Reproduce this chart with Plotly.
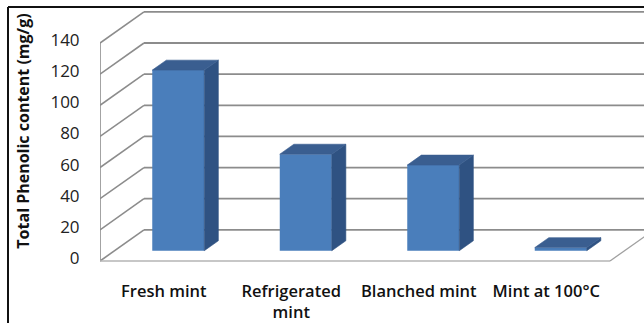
import plotly.graph_objects as go

# ---- data ----
categories = ["Fresh mint", "Refrigerated<br>mint", "Blanched mint", "Mint at 100°C"]
values = [116, 62, 55, 2]
y_ticks = [0, 20, 40, 60, 80, 100, 120, 140]
y_title = "Total Phenolic content (mg/g)"

# ---- oblique 3D geometry (in axis units) ----
DX, DY = 0.345, 20.0        # full depth offset of the walls
D_FRONT = 0.33              # depth of bar front faces
D_BAR = 0.32                # bar depth
BAR_W = 0.408
X0, X1 = -0.5, len(categories) - 0.5

FRONT = "#4a7ebb"
TOP = "#3a5e90"
SIDE = "#2f5282"
GRID = "#8c8c8c"

W, H = 644, 323
ML, MR, MT, MB = 100, 0, 0, 61
PW, PH = W - ML - MR, H - MT - MB
CAT_PX = 127.5              # pixels per category
Y_PX = 1.557                # pixels per value unit


def px(x):  # paper coord from pixel x
    return (x - ML) / PW


def py(y):  # paper coord from pixel y
    return (H - MB - y) / PH


fig = go.Figure()

# front faces as bars
xs = [i + D_FRONT * DX for i in range(len(values))]
fig.add_trace(go.Bar(
    x=xs, y=values, base=[D_FRONT * DY] * len(values), width=BAR_W,
    marker=dict(color=FRONT, line=dict(width=0)), hoverinfo="skip",
))

# side and top faces
sx, sy, tx, ty = [], [], [], []
ddx, ddy = D_BAR * DX, D_BAR * DY
for xc, v in zip(xs, values):
    xl, xr = xc - BAR_W / 2, xc + BAR_W / 2
    y0 = D_FRONT * DY
    y1 = y0 + v
    sx += [xr, xr + ddx, xr + ddx, xr, xr, None]
    sy += [y0, y0 + ddy, y1 + ddy, y1, y0, None]
    tx += [xl, xr, xr + ddx, xl + ddx, xl, None]
    ty += [y1, y1, y1 + ddy, y1 + ddy, y1, None]
fig.add_trace(go.Scatter(x=sx, y=sy, fill="toself", fillcolor=SIDE, mode="lines",
                         line=dict(width=0.6, color=SIDE), hoverinfo="skip"))
fig.add_trace(go.Scatter(x=tx, y=ty, fill="toself", fillcolor=TOP, mode="lines",
                         line=dict(width=0.6, color=TOP), hoverinfo="skip"))

# walls / gridlines
shapes = []
for v in y_ticks:
    shapes.append(dict(type="line", layer="below", xref="x", yref="y",
                       x0=X0 + DX, y0=v + DY, x1=X1 + DX + 1, y1=v + DY,
                       line=dict(color=GRID, width=1.8)))
    shapes.append(dict(type="line", layer="below", xref="x", yref="y",
                       x0=X0, y0=v, x1=X0 + DX, y1=v + DY,
                       line=dict(color=GRID, width=1.6)))
shapes.append(dict(type="line", layer="below", xref="x", yref="y",
                   x0=X0, y0=0, x1=X0, y1=y_ticks[-1],
                   line=dict(color=GRID, width=1.6)))
shapes.append(dict(type="line", layer="below", xref="x", yref="y",
                   x0=X0, y0=0, x1=X1, y1=0,
                   line=dict(color="#b4b4b4", width=1.3)))
shapes.append(dict(type="line", layer="below", xref="x", yref="y",
                   x0=X1, y0=0, x1=X1 + DX, y1=DY,
                   line=dict(color="#a0a0a0", width=1.3)))
# outer frame (top and left edges)
shapes.append(dict(type="line", xref="paper", yref="paper",
                   x0=px(8), y0=py(7), x1=px(W + 5), y1=py(7),
                   line=dict(color="#111111", width=2)))
shapes.append(dict(type="line", xref="paper", yref="paper",
                   x0=px(8), y0=py(7), x1=px(8), y1=py(H + 5),
                   line=dict(color="#111111", width=2)))

x_hi = X0 + PW / CAT_PX
y_lo = -(H - MB - 261) / Y_PX
y_hi = 261 / Y_PX

fig.update_layout(
    width=W, height=H,
    margin=dict(l=ML, r=MR, t=MT, b=MB, pad=0),
    paper_bgcolor="white", plot_bgcolor="white",
    showlegend=False, shapes=shapes,
    font=dict(family="Open Sans", color="#1a1a1a"),
    xaxis=dict(
        range=[X0, x_hi],
        tickvals=list(range(len(categories))), ticktext=categories,
        showgrid=False, zeroline=False, showline=False,
        ticks="outside", ticklen=14, tickcolor="rgba(0,0,0,0)",
        automargin=False, fixedrange=True,
        tickfont=dict(size=16.5, family="Open Sans", weight=600, color="#111111"),
    ),
    yaxis=dict(
        range=[y_lo, y_hi],
        tickvals=y_ticks, showgrid=False, zeroline=False, showline=False,
        ticks="outside", ticklen=16, tickcolor="rgba(0,0,0,0)",
        ticklabelshift=-3, automargin=False, fixedrange=True,
        tickfont=dict(size=17, family="Open Sans", color="#222222"),
        title=dict(text=y_title, standoff=16,
                   font=dict(size=16, family="Open Sans", weight=700, color="#111111")),
    ),
)

fig.write_html("out.html")
